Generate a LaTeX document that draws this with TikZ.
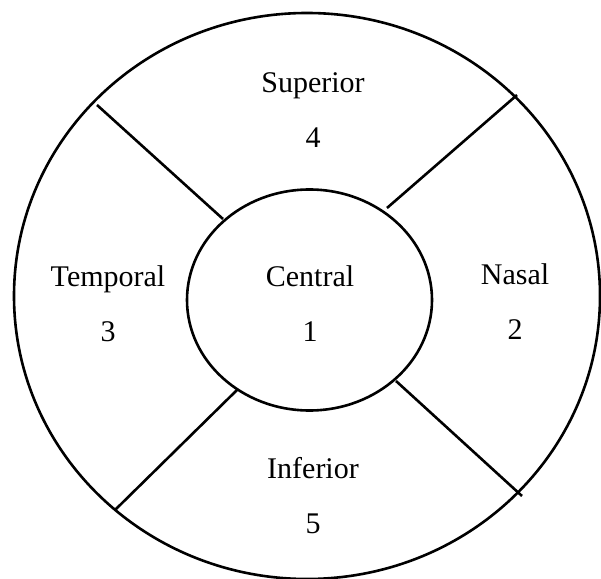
\documentclass[tikz,border=0pt]{standalone}
\usepackage{fontspec}
\setmainfont{Liberation Serif}
\usetikzlibrary{shapes.geometric}
\begin{document}
\begin{tikzpicture}[x=1pt,y=1pt,
  ring/.style={draw=black,line width=2.6pt,ellipse,inner sep=0pt},
  spoke/.style={draw=black,line width=2.6pt},
  lbl/.style={font=\fontsize{30}{36}\selectfont,anchor=base,inner sep=0pt}]
\useasboundingbox (0,0) rectangle (601,578);
\node[ring,minimum width=586pt,minimum height=566pt] (outer) at (307,282) {};
\node[ring,minimum width=245pt,minimum height=221pt] (inner) at (309.5,278) {};
% spoke end points
\coordinate (ulo) at (97,473);  \coordinate (uli) at (223,359);
\coordinate (uro) at (517,483); \coordinate (uri) at (387,370);
\coordinate (llo) at (115,68);  \coordinate (lli) at (237,188);
\coordinate (lro) at (522,82);  \coordinate (lri) at (396,197);
\draw[spoke] (ulo) -- (uli);
\draw[spoke] (uro) -- (uri);
\draw[spoke] (llo) -- (lli);
\draw[spoke] (lro) -- (lri);
% labels
\node[lbl] (sup) at (313,485) {Superior};
\node[lbl] (supn) at (313,430) {4};
\node[lbl] (tem) at (108,291) {Temporal};
\node[lbl] (temn) at (108,236) {3};
\node[lbl] (cen) at (310,291) {Central};
\node[lbl] (cenn) at (310,236) {1};
\node[lbl] (nas) at (515,293) {Nasal};
\node[lbl] (nasn) at (515,238) {2};
\node[lbl] (inf) at (313,100) {Inferior};
\node[lbl] (infn) at (313,45) {5};
\end{tikzpicture}
\end{document}
